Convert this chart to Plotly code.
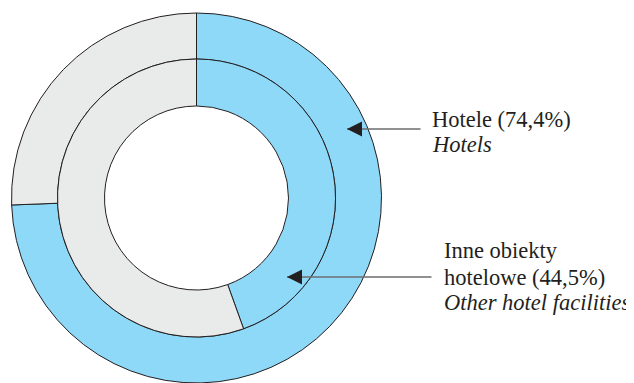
import plotly.graph_objects as go

# outer ring - Hotele, inner ring - Inne obiekty hotelowe
outer_labels = ["Hotele", "Pozostałe"]
outer_values = [74.4, 25.6]
inner_labels = ["Inne obiekty hotelowe", "Pozostałe"]
inner_values = [44.5, 55.5]

BLUE = "#8ED8F8"
GREY = "#E9EAEA"
EDGE = "#231F20"

W, H = 634, 383
OX, OY = 8, 8               # page body margin offsets the figure
cx, cy = 196.5 - OX, 198 - OY
r_out, r_mid, r_in = 185, 139, 92


def dom(r):
    return dict(x=[(cx - r) / W, (cx + r) / W],
                y=[1 - (cy + r) / H, 1 - (cy - r) / H])


fig = go.Figure()
fig.add_trace(go.Pie(
    labels=outer_labels, values=outer_values,
    hole=r_mid / r_out, domain=dom(r_out),
    sort=False, direction="clockwise", rotation=0,
    marker=dict(colors=[BLUE, GREY], line=dict(color=EDGE, width=1)),
    textinfo="none", hoverinfo="label+value",
))
fig.add_trace(go.Pie(
    labels=inner_labels, values=inner_values,
    hole=r_in / r_mid, domain=dom(r_mid),
    sort=False, direction="clockwise", rotation=0,
    marker=dict(colors=[BLUE, GREY], line=dict(color=EDGE, width=1)),
    textinfo="none", hoverinfo="label+value",
))

font = dict(family="Liberation Serif, Times New Roman, serif", size=22.5, color="#231F20")


def px(x, y):
    return (x - OX) / W, 1 - (y - OY) / H


def text(x, y, s, italic=False):
    xx, yy = px(x, y)
    f = dict(font)
    if italic:
        f["style"] = "italic"
    fig.add_annotation(x=xx, y=yy, xref="paper", yref="paper", text=s,
                       showarrow=False, xanchor="left", yanchor="middle",
                       font=f)


def arrow(x_tip, x_tail, y):
    xx, yy = px(x_tip, y)
    # grey shaft
    fig.add_annotation(x=xx, y=yy, xref="paper", yref="paper", text="",
                       ax=x_tail - x_tip, ay=0, showarrow=True,
                       arrowhead=0, arrowwidth=1.6, arrowcolor="#6D6E71")
    # black head
    fig.add_annotation(x=xx, y=yy, xref="paper", yref="paper", text="",
                       ax=14, ay=0, showarrow=True, arrowhead=2,
                       arrowsize=1.5, arrowwidth=2, arrowcolor="#231F20")


text(430, 119, "Hotele (74,4%)")
text(430, 144, "Hotels", italic=True)
text(442, 250, "Inne obiekty")
text(442, 277, "hotelowe (44,5%)")
text(442, 302, "Other hotel facilities", italic=True)

arrow(347, 422, 129)
arrow(287, 433, 277)

fig.update_layout(
    width=W, height=H,
    margin=dict(l=0, r=0, t=0, b=0),
    paper_bgcolor="white", plot_bgcolor="white",
    showlegend=False,
)

fig.write_html("out.html")
